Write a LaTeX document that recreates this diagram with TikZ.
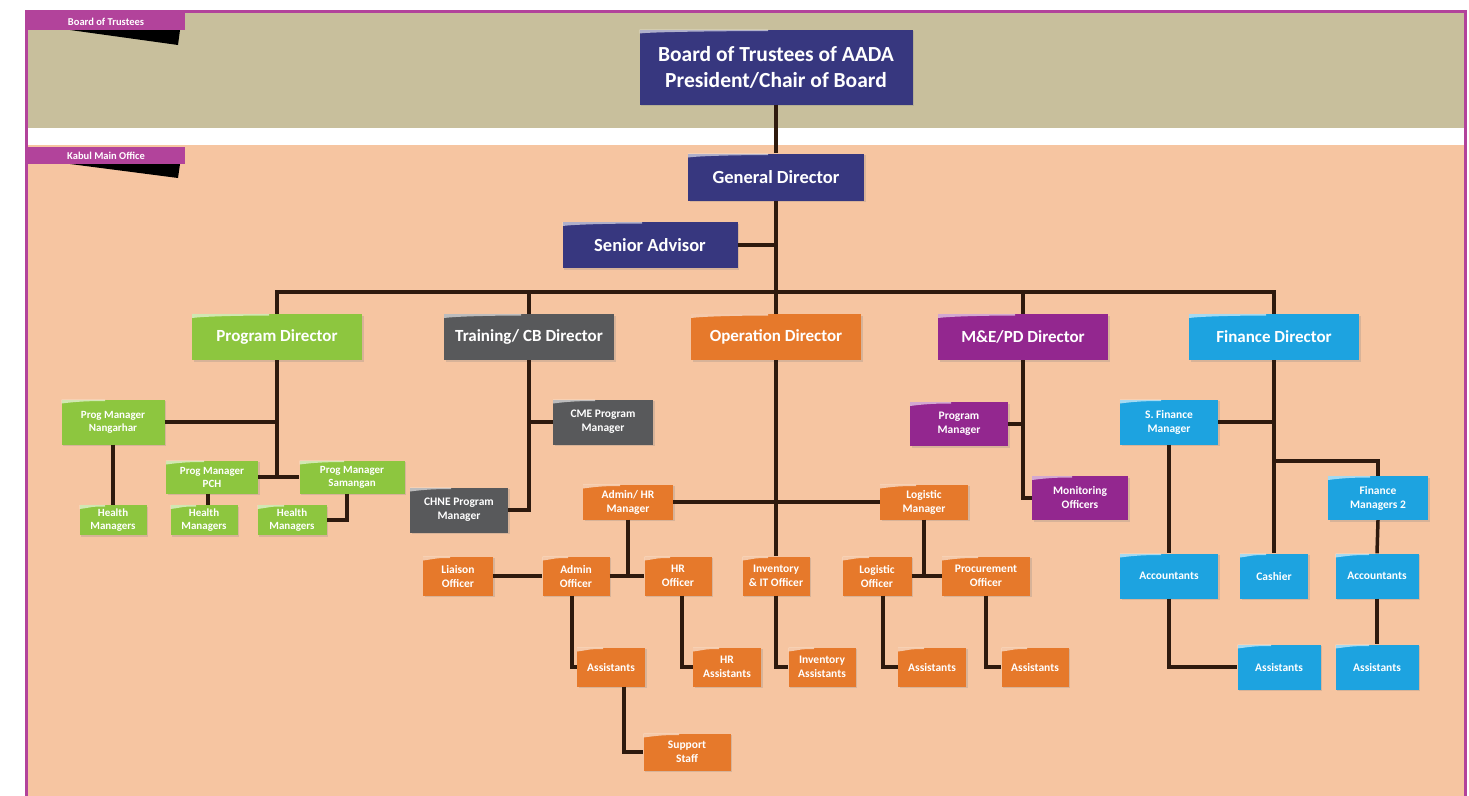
\documentclass[tikz,border=0pt]{standalone}
\usepackage{fontspec}
\setmainfont{Carlito}
\usetikzlibrary{shadows}

\definecolor{tanband}{HTML}{C8BF9C}
\definecolor{peach}{HTML}{F6C5A1}
\definecolor{framemag}{HTML}{B2439B}
\definecolor{navy}{HTML}{37377F}
\definecolor{pgreen}{HTML}{8DC63F}
\definecolor{tgray}{HTML}{58595B}
\definecolor{oorange}{HTML}{E6792B}
\definecolor{mpurple}{HTML}{93278F}
\definecolor{fblue}{HTML}{1DA3E0}
\definecolor{linecol}{HTML}{2E1A0E}

\tikzset{
  box/.style={rectangle, fill=#1, text=white, align=center, inner sep=1pt,
    font=\bfseries\fontsize{11.5}{14}\selectfont,
    drop shadow={shadow xshift=1.5pt, shadow yshift=-1.5pt, opacity=.25},
    path picture={
      \fill[white, opacity=.6] (path picture bounding box.north west)
        -- ++(0pt,-4pt) .. controls +(15pt,2pt) and +(-15pt,0pt) .. ([xshift=-8pt,yshift=-1.5pt]path picture bounding box.north)
        -- ([xshift=-8pt]path picture bounding box.north) -- cycle;
    }},
  dirbox/.style={box=#1, minimum width=170, minimum height=46,
    font=\bfseries\fontsize{17}{19}\selectfont},
  gbox/.style={box=pgreen, font=\bfseries\fontsize{11}{13}\selectfont},
  link/.style={draw=linecol, line width=3.5pt},
  tab/.style={fill=framemag, text=white, font=\bfseries\fontsize{10.5}{12}\selectfont,
    minimum width=158, minimum height=17, inner sep=0pt}
}

\begin{document}
\begin{tikzpicture}[x=1pt, y=-1pt]
\useasboundingbox (0,0) rectangle (1469,795);
\fill[white] (0,0) rectangle (1469,795);

% bands
\fill[tanband] (27,12) rectangle (1464,128);
\fill[white] (27,128) rectangle (1464,145);
\fill[peach] (27,145) rectangle (1464,800);
\draw[framemag, line width=3pt] (26,11) rectangle (1465,800);

% tabs
\fill[black] (70,30) -- (180,30) -- (178,45) -- cycle;
\node[tab] (tabboard) at (106,21.5) {Board of Trustees};
\fill[black] (70,164) -- (180,164) -- (178,178) -- cycle;
\node[tab] (tabkabul) at (106,155.5) {Kabul Main Office};

% top
\node[box=navy, minimum width=273, minimum height=75, font=\bfseries\fontsize{21.5}{26}\selectfont] (board) at (776,67)
  {Board of Trustees of AADA\\President/Chair of Board};
\node[box=navy, minimum width=176, minimum height=47, font=\bfseries\fontsize{18.5}{20}\selectfont] (gd) at (776,177) {General Director};
\node[box=navy, minimum width=175, minimum height=46, font=\bfseries\fontsize{18.5}{20}\selectfont] (sa) at (650,245) {Senior Advisor};

% directors
\node[dirbox=pgreen] (pd) at (277,337) {Program Director};
\node[dirbox=tgray] (td) at (529,337) {Training/ CB Director};
\node[dirbox=oorange] (opd) at (776,337) {Operation Director};
\node[dirbox=mpurple] (med) at (1023,337) {M\&E/PD Director};
\node[dirbox=fblue] (fd) at (1274,337) {Finance Director};

% program
\node[gbox, minimum width=103, minimum height=45] (pmn) at (113,422) {Prog Manager\\Nangarhar};
\node[gbox, minimum width=92, minimum height=33] (pmpch) at (212,477) {Prog Manager\\PCH};
\node[gbox, minimum width=105, minimum height=33] (pms) at (352,477) {Prog Manager\\Samangan};
\node[gbox, minimum width=67, minimum height=30] (hm1) at (113,520) {Health\\Managers};
\node[gbox, minimum width=67, minimum height=30] (hm2) at (204,520) {Health\\Managers};
\node[gbox, minimum width=69, minimum height=30] (hm3) at (292,520) {Health\\Managers};

% training
\node[box=tgray, minimum width=100, minimum height=45] (cme) at (603,422) {CME Program\\Manager};
\node[box=tgray, minimum width=98, minimum height=45] (chne) at (459,510) {CHNE Program\\Manager};

% operation
\node[box=oorange, minimum width=90, minimum height=35] (ahr) at (628,502) {Admin/ HR\\Manager};
\node[box=oorange, minimum width=88, minimum height=35] (lgm) at (924,502) {Logistic\\Manager};
\node[box=oorange, minimum width=70, minimum height=39] (liai) at (458,576) {Liaison\\Officer};
\node[box=oorange, minimum width=67, minimum height=39] (admo) at (576,576) {Admin\\Officer};
\node[box=oorange, minimum width=67, minimum height=39] (hro) at (678,576) {HR\\Officer};
\node[box=oorange, minimum width=67, minimum height=39] (inv) at (776,576) {Inventory\\\& IT Officer};
\node[box=oorange, minimum width=69, minimum height=39] (lgo) at (877,576) {Logistic\\Officer};
\node[box=oorange, minimum width=88, minimum height=39] (pro) at (986,576) {Procurement\\Officer};
\node[box=oorange, minimum width=68, minimum height=39] (asst1) at (611,667) {Assistants};
\node[box=oorange, minimum width=68, minimum height=39] (asst2) at (727,667) {HR\\Assistants};
\node[box=oorange, minimum width=67, minimum height=39] (asst3) at (822,667) {Inventory\\Assistants};
\node[box=oorange, minimum width=68, minimum height=39] (asst4) at (932,667) {Assistants};
\node[box=oorange, minimum width=67, minimum height=39] (asst5) at (1035,667) {Assistants};
\node[box=oorange, minimum width=87, minimum height=37] (sup) at (687,752) {Support\\Staff};

% m&e
\node[box=mpurple, minimum width=98, minimum height=44] (mepm) at (959,424) {Program\\Manager};
\node[box=mpurple, minimum width=96, minimum height=44] (mon) at (1080,498) {Monitoring\\Officers};

% finance
\node[box=fblue, minimum width=98, minimum height=45] (sfm) at (1169,422) {S. Finance\\Manager};
\node[box=fblue, minimum width=100, minimum height=44] (fm2) at (1378,498) {Finance\\Managers 2};
\node[box=fblue, minimum width=98, minimum height=45] (acc1) at (1169,576) {Accountants};
\node[box=fblue, minimum width=68, minimum height=45] (cash) at (1274,576) {Cashier};
\node[box=fblue, minimum width=83, minimum height=45] (acc2) at (1377,576) {Accountants};
\node[box=fblue, minimum width=83, minimum height=45] (asst6) at (1279,667) {Assistants};
\node[box=fblue, minimum width=83, minimum height=45] (asst7) at (1377,667) {Assistants};

% connectors
\coordinate (bus) at (776,292);
\coordinate (fsplit) at (1274,461);
\draw[link] (board) -- (gd);
\draw[link] (gd) -- (opd);
\draw[link] (sa.east) -- (sa.east -| gd.south);
\draw[link] (pd.north) -- (pd.north |- bus) -- (fd.north |- bus) -- (fd.north);
\draw[link] (td.north) -- (td.north |- bus);
\draw[link] (med.north) -- (med.north |- bus);

\draw[link] (pd.south) -- (pd.south |- pmpch.east);
\draw[link] (pmn.east) -- (pmn.east -| pd.south);
\draw[link] (pmpch.east) -- (pms.west);
\draw[link] (pmn.south) -- (hm1.north);
\draw[link] ([xshift=-4pt]pmpch.south) -- ([xshift=-4pt]pmpch.south |- hm2.north);
\draw[link] ([xshift=-5pt]pms.south) |- (hm3.east);

\draw[link] (td.south) |- (chne.east);
\draw[link] (cme.west) -- (cme.west -| td.south);

\draw[link] (opd.south) -- (inv.north);
\draw[link] (ahr.east) -- (lgm.west);
\draw[link] (ahr.south) -- (ahr.south |- admo.east);
\draw[link] (liai.east) -- (admo.west);
\draw[link] (admo.east) -- (hro.west);
\draw[link] (lgm.south) -- (lgm.south |- lgo.east);
\draw[link] (lgo.east) -- (pro.west);
\draw[link] ([xshift=-4pt]admo.south) |- (asst1.west);
\draw[link] ([xshift=4pt]hro.south) |- (asst2.west);
\draw[link] (inv.south) |- (asst3.west);
\draw[link] ([xshift=6pt]lgo.south) |- (asst4.west);
\draw[link] (pro.south) |- (asst5.west);
\draw[link] ([xshift=13pt]asst1.south) |- (sup.west);

\draw[link] (med.south) |- (mon.west);
\draw[link] (mepm.east) -- (mepm.east -| med.south);

\draw[link] (fd.south) -- (cash.north);
\draw[link] (sfm.east) -- (sfm.east -| fd.south);
\draw[link] (fsplit) -| (fm2.north);
\draw[link] (sfm.south) -- (acc1.north);
\draw[link] (acc1.south) |- (asst6.west);
\draw[link] (fm2.south) -- (acc2.north);
\draw[link] (acc2.south) -- (asst7.north);
\end{tikzpicture}
\end{document}
